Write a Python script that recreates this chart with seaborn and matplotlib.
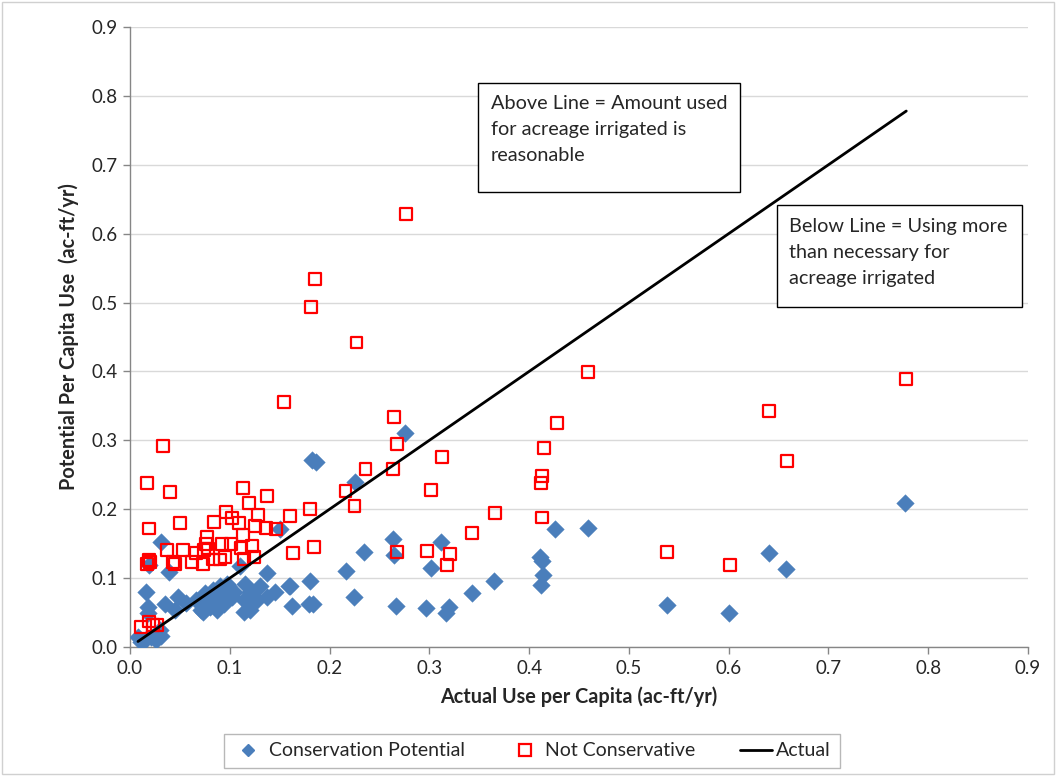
import matplotlib
matplotlib.use("Agg")
import matplotlib.pyplot as plt
import matplotlib.patches as mpatches
from matplotlib.lines import Line2D
import seaborn as sns
import pandas as pd
import numpy as np

# ---------------- data ----------------
cons_x = [0.276, 0.182, 0.186, 0.226, 0.150, 0.426, 0.459, 0.264, 0.312, 0.235,
          0.265, 0.302, 0.411, 0.413, 0.216, 0.414, 0.412, 0.365, 0.180, 0.160,
          0.343, 0.224, 0.162, 0.183, 0.267, 0.297, 0.320, 0.317, 0.640, 0.657,
          0.538, 0.600, 0.777, 0.031, 0.019, 0.039, 0.016, 0.018, 0.018, 0.035,
          0.048, 0.056, 0.045, 0.066, 0.073, 0.080, 0.086, 0.091, 0.098, 0.071,
          0.086, 0.008, 0.015, 0.021, 0.026, 0.031, 0.011, 0.030, 0.110, 0.137,
          0.159, 0.145, 0.130, 0.120, 0.115, 0.104, 0.097, 0.090, 0.083, 0.075,
          0.080, 0.094, 0.102, 0.114, 0.120, 0.114, 0.127, 0.073, 0.087, 0.179,
          0.137]
cons_y = [0.311, 0.272, 0.268, 0.240, 0.171, 0.171, 0.173, 0.157, 0.152, 0.138,
          0.134, 0.114, 0.131, 0.125, 0.110, 0.104, 0.090, 0.096, 0.096, 0.088,
          0.078, 0.072, 0.060, 0.062, 0.060, 0.056, 0.058, 0.049, 0.137, 0.113,
          0.061, 0.050, 0.209, 0.153, 0.119, 0.109, 0.080, 0.058, 0.049, 0.063,
          0.073, 0.064, 0.054, 0.068, 0.073, 0.058, 0.073, 0.080, 0.088, 0.054,
          0.056, 0.015, 0.010, 0.015, 0.010, 0.016, 0.007, 0.025, 0.117, 0.108,
          0.088, 0.080, 0.088, 0.080, 0.092, 0.080, 0.092, 0.088, 0.083, 0.078,
          0.063, 0.063, 0.073, 0.068, 0.054, 0.051, 0.068, 0.051, 0.054, 0.063,
          0.073]

notc_x = [0.277, 0.185, 0.181, 0.227, 0.154, 0.265, 0.268, 0.313, 0.033, 0.236,
          0.264, 0.017, 0.040, 0.216, 0.302, 0.113, 0.119, 0.137, 0.225, 0.180,
          0.096, 0.160, 0.128, 0.412, 0.413, 0.415, 0.428, 0.459, 0.366, 0.413,
          0.343, 0.163, 0.184, 0.268, 0.298, 0.321, 0.318, 0.640, 0.658, 0.538,
          0.601, 0.778, 0.019, 0.050, 0.084, 0.102, 0.109, 0.125, 0.136, 0.146,
          0.077, 0.113, 0.092, 0.101, 0.122, 0.076, 0.074, 0.037, 0.053, 0.066,
          0.078, 0.095, 0.111, 0.124, 0.019, 0.020, 0.017, 0.043, 0.045, 0.062,
          0.073, 0.083, 0.090, 0.114, 0.011, 0.019, 0.023, 0.027]
notc_y = [0.628, 0.534, 0.494, 0.442, 0.356, 0.334, 0.294, 0.276, 0.292, 0.259,
          0.258, 0.238, 0.225, 0.227, 0.228, 0.231, 0.209, 0.219, 0.205, 0.200,
          0.196, 0.190, 0.192, 0.238, 0.248, 0.289, 0.325, 0.399, 0.195, 0.188,
          0.166, 0.136, 0.145, 0.138, 0.139, 0.135, 0.119, 0.343, 0.270, 0.138,
          0.119, 0.389, 0.172, 0.180, 0.181, 0.187, 0.180, 0.175, 0.173, 0.171,
          0.160, 0.163, 0.149, 0.149, 0.147, 0.150, 0.141, 0.141, 0.141, 0.137,
          0.143, 0.131, 0.144, 0.130, 0.126, 0.123, 0.121, 0.124, 0.120, 0.124,
          0.120, 0.127, 0.127, 0.128, 0.029, 0.037, 0.032, 0.032]

ticks = [0.0, 0.1, 0.2, 0.3, 0.4, 0.5, 0.6, 0.7, 0.8, 0.9]
tick_labels = ["0.0", "0.1", "0.2", "0.3", "0.4", "0.5", "0.6", "0.7", "0.8", "0.9"]

series_names = ["Conservation Potential", "Not Conservative", "Actual"]
x_title = "Actual Use per Capita (ac-ft/yr)"
y_title = "Potential Per Capita Use  (ac-ft/yr)"
note_above = "Above Line = Amount used\nfor acreage irrigated is\nreasonable"
note_below = "Below Line = Using more\nthan necessary for\nacreage irrigated"

# "Actual" series: y = x over the range of actual use
all_x = cons_x + notc_x
actual_x = [min(all_x), max(all_x)]
actual_y = actual_x

cons_df = pd.DataFrame({"x": cons_x, "y": cons_y})
notc_df = pd.DataFrame({"x": notc_x, "y": notc_y})
act_df = pd.DataFrame({"x": actual_x, "y": actual_y})

# ---------------- style ----------------
sns.set_theme(style="white")
plt.rcParams["font.family"] = ["Lato", "DejaVu Sans"]

BLUE = "#4a7ebb"
RED = "#ff0000"
GRID = "#d9d9d9"
AXIS = "#868686"
TXT = "#262626"

fig = plt.figure(figsize=(10.56, 7.76), dpi=100)
fig.patch.set_facecolor("white")
ax = fig.add_axes([130 / 1056, 1 - 647 / 776, 898 / 1056, 620 / 776])

sns.scatterplot(data=cons_df, x="x", y="y", ax=ax, marker="D", s=80,
                color=BLUE, edgecolor=BLUE, linewidth=0.3, zorder=3, legend=False)
sns.scatterplot(data=notc_df, x="x", y="y", ax=ax, marker="s", s=74,
                facecolors="none", edgecolor=RED, linewidth=1.6, zorder=4, legend=False)
sns.lineplot(data=act_df, x="x", y="y", ax=ax, color="black", linewidth=2.0,
             zorder=5, legend=False)

ax.set_xlim(0, 0.9)
ax.set_ylim(0, 0.9)
ax.set_xticks(ticks)
ax.set_xticklabels(tick_labels)
ax.set_yticks(ticks)
ax.set_yticklabels(tick_labels)
ax.yaxis.grid(True, color=GRID, linewidth=1.0)
ax.xaxis.grid(False)
ax.set_axisbelow(True)
for side in ["top", "right"]:
    ax.spines[side].set_visible(False)
for side in ["left", "bottom"]:
    ax.spines[side].set_color(AXIS)
    ax.spines[side].set_linewidth(1.0)
ax.tick_params(axis="both", which="major", direction="out", length=5, width=1,
               color=AXIS, labelsize=13.5, labelcolor=TXT, pad=4)
ax.tick_params(axis="x", bottom=True)
ax.tick_params(axis="y", left=True)

ax.set_xlabel(x_title, fontsize=14.3, fontweight="bold", color=TXT, labelpad=7)
ax.set_ylabel(y_title, fontsize=14.3, fontweight="bold", color=TXT, labelpad=9)

# annotation boxes
box1 = mpatches.Rectangle((478 / 1056, 1 - 192 / 776), 262 / 1056, 109 / 776,
                          transform=fig.transFigure, facecolor="white",
                          edgecolor="black", linewidth=1.0, zorder=10)
box2 = mpatches.Rectangle((777 / 1056, 1 - 307 / 776), 245 / 1056, 102 / 776,
                          transform=fig.transFigure, facecolor="white",
                          edgecolor="black", linewidth=1.0, zorder=10)
fig.patches.extend([box1, box2])
fig.text(491 / 1056, 1 - 95 / 776, note_above, fontsize=14.3, va="top", ha="left",
         linespacing=1.66, color=TXT, zorder=11)
fig.text(789 / 1056, 1 - 218 / 776, note_below, fontsize=14.3, va="top", ha="left",
         linespacing=1.66, color=TXT, zorder=11)

# legend
handles = [
    Line2D([], [], marker="D", linestyle="none", color=BLUE, markersize=6.5),
    Line2D([], [], marker="s", linestyle="none", markerfacecolor="none",
           markeredgecolor=RED, markeredgewidth=1.6, markersize=8.5),
    Line2D([], [], color="black", linewidth=2.0),
]
leg = fig.legend(handles, series_names, loc="center", ncol=3,
                 bbox_to_anchor=(532 / 1056, 1 - 751 / 776), frameon=True,
                 fontsize=14, fancybox=False, edgecolor="#a6a6a6",
                 handlelength=1.6, handletextpad=0.25, columnspacing=2.3,
                 borderpad=0.45)
leg.get_frame().set_linewidth(1.0)
for t in leg.get_texts():
    t.set_color(TXT)

# outer chart border
border = mpatches.Rectangle((0.002, 0.002), 0.996, 0.996, transform=fig.transFigure,
                            facecolor="none", edgecolor="#d0d0d0", linewidth=1.0)
fig.patches.append(border)

fig.savefig("out.png", dpi=100)
